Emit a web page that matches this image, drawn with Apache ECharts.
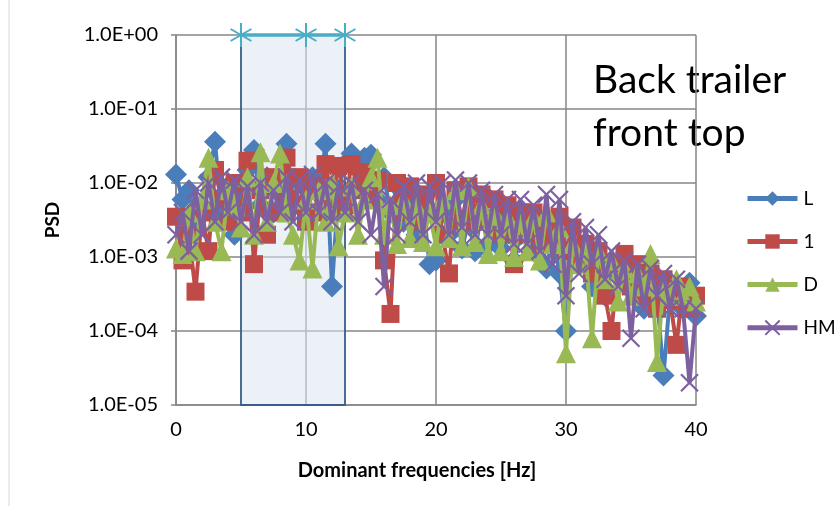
<!DOCTYPE html>
<html>
<head>
<meta charset="utf-8">
<script src="https://cdn.jsdelivr.net/npm/echarts@6/dist/echarts.min.js"></script>
<style>
html,body{margin:0;padding:0;background:#fff;}
#c{width:840px;height:506px;}
</style>
</head>
<body>
<div id="c"></div>
<script>
// Frequencies [Hz]
const freqs = [0,0.5,1,1.5,2,2.5,3,3.5,4,4.5,5,5.5,6,6.5,7,7.5,8,8.5,9,9.5,
10,10.5,11,11.5,12,12.5,13,13.5,14,14.5,15,15.5,16,16.5,17,17.5,18,18.5,19,19.5,
20,20.5,21,21.5,22,22.5,23,23.5,24,24.5,25,25.5,26,26.5,27,27.5,28,28.5,29,29.5,
30,30.5,31,31.5,32,32.5,33,33.5,34,34.5,35,35.5,36,36.5,37,37.5,38,38.5,39,39.5,40];

const psdL = [0.013,0.006,0.008,0.003,0.005,0.012,0.036,0.004,0.009,0.002,
0.006,0.015,0.028,0.005,0.012,0.004,0.008,0.034,0.006,0.010,
0.004,0.012,0.007,0.034,0.0004,0.008,0.018,0.025,0.010,0.022,
0.024,0.006,0.012,0.004,0.009,0.003,0.006,0.002,0.005,0.0008,
0.0009,0.004,0.002,0.006,0.0013,0.003,0.0012,0.004,0.0015,0.003,
0.0013,0.004,0.0009,0.002,0.003,0.0012,0.0025,0.0007,0.002,0.0006,
0.0001,0.0012,0.0008,0.0015,0.0004,0.0009,0.0003,0.0008,0.0006,0.0009,
0.0004,0.0007,0.0002,0.0006,0.0003,0.000025,0.0003,0.0004,0.0002,0.00045,0.00016];

const psd1 = [0.0035,0.0009,0.002,0.00034,0.004,0.0012,0.015,0.006,0.003,0.010,
0.004,0.020,0.0008,0.008,0.002,0.012,0.004,0.022,0.005,0.012,
0.003,0.009,0.004,0.018,0.006,0.017,0.005,0.018,0.008,0.014,
0.006,0.011,0.0009,0.00017,0.010,0.004,0.009,0.003,0.007,0.004,
0.010,0.002,0.0006,0.008,0.003,0.009,0.004,0.007,0.003,0.006,
0.002,0.005,0.0008,0.004,0.002,0.004,0.0015,0.003,0.002,0.0035,
0.0012,0.0025,0.0009,0.0015,0.0006,0.0012,0.0003,0.0001,0.0008,0.0011,
0.0004,0.0008,0.0003,0.0006,0.0002,0.0005,0.00026,0.000065,0.0004,0.0002,0.0003];

const psdD = [0.0013,0.0011,0.004,0.0012,0.006,0.022,0.003,0.0012,0.008,0.005,
0.0025,0.012,0.002,0.026,0.003,0.010,0.025,0.004,0.002,0.0009,
0.006,0.0007,0.008,0.003,0.010,0.0014,0.004,0.009,0.002,0.006,
0.012,0.022,0.002,0.005,0.0015,0.006,0.0018,0.005,0.0016,0.004,
0.0014,0.006,0.0018,0.008,0.0014,0.009,0.0016,0.005,0.0011,0.004,
0.0012,0.0035,0.0010,0.003,0.0012,0.0035,0.0009,0.004,0.0015,0.0025,
0.00005,0.0015,0.0008,0.0012,0.00008,0.0012,0.0005,0.0009,0.00025,0.0007,
0.0003,0.0006,0.0004,0.0011,0.000038,0.0004,0.0003,0.0005,0.0003,0.0004,0.00025];

const psdHM = [0.002,0.004,0.0012,0.008,0.002,0.010,0.003,0.012,0.004,0.011,
0.003,0.009,0.002,0.010,0.003,0.008,0.004,0.012,0.003,0.011,
0.004,0.013,0.004,0.010,0.003,0.009,0.004,0.010,0.003,0.008,
0.002,0.007,0.0004,0.006,0.002,0.009,0.003,0.010,0.002,0.009,
0.003,0.010,0.002,0.011,0.0025,0.010,0.002,0.008,0.002,0.007,
0.002,0.006,0.0015,0.006,0.0015,0.005,0.0012,0.007,0.0008,0.006,
0.0003,0.003,0.0006,0.0025,0.0008,0.002,0.0005,0.0012,0.0004,0.0009,
0.00008,0.0008,0.0002,0.0007,0.0003,0.0006,0.0002,0.0005,0.0002,0.00002,0.0002];

// Highlighted dominant-frequency band
const bandFreqs = [5, 10, 13];
const bandTop = 1;
const bandBottom = 1e-5;

const seriesNames = ['L', '1', 'D', 'HM'];
const xTicks = [0, 10, 20, 30, 40];
const yTickLabels = ['1.0E-05','1.0E-04','1.0E-03','1.0E-02','1.0E-01','1.0E+00'];
const titleText = 'Back trailer\nfront top';
const xTitle = 'Dominant frequencies [Hz]';
const yTitle = 'PSD';

const FONT = 'Lato, "Liberation Sans", sans-serif';
function pairs(xs, ys){ return xs.map((x,i)=>[x, ys[i]]); }
function fmtY(v){
  const e = Math.round(Math.log10(v));
  const idx = e + 5;
  return yTickLabels[idx] !== undefined ? yTickLabels[idx] : '';
}
const xMark = 'path://M-5,-5L5,5M-5,5L5,-5';
const starMark = 'path://M0,-10L0,10M-8.66,-5L8.66,5M-8.66,5L8.66,-5';

const chart = echarts.init(document.getElementById('c'), null, {renderer:'canvas'});
const lw = 4;
chart.setOption({
  animation: false,
  backgroundColor: '#fff',
  grid: {left: 176, right: 144, top: 35, bottom: 101, containLabel: false},
  xAxis: {
    type: 'value', min: xTicks[0], max: xTicks[xTicks.length-1], interval: 10,
    axisLine: {show: true, onZero: false, lineStyle: {color: '#868686', width: 1.5}},
    axisTick: {show: false},
    splitLine: {show: true, lineStyle: {color: '#868686', width: 1.5}},
    axisLabel: {color: '#000', fontFamily: FONT, fontSize: 20, margin: 15}
  },
  yAxis: {
    type: 'log', logBase: 10, min: bandBottom, max: bandTop,
    axisLine: {show: true, lineStyle: {color: '#868686', width: 1.5}},
    axisTick: {show: true, length: 5, lineStyle: {color: '#868686', width: 1.5}},
    minorTick: {show: false},
    splitLine: {show: true, lineStyle: {color: '#868686', width: 1.5}},
    axisLabel: {color: '#000', fontFamily: FONT, fontSize: 20, margin: 18, formatter: fmtY},
    name: yTitle, nameLocation: 'middle', nameGap: 114, nameRotate: 90,
    nameTextStyle: {color: '#000', fontFamily: FONT, fontSize: 19, fontWeight: 'bold'}
  },
  legend: {
    orient: 'vertical', left: 740, top: 184, itemWidth: 50, itemHeight: 18, itemGap: 24,
    data: seriesNames,
    lineStyle: {width: 5},
    textStyle: {color: '#000', fontFamily: FONT, fontSize: 19, padding: [0,0,0,1]}
  },
  graphic: [
    {type: 'text', left: 593, top: 54, style: {text: titleText, fontFamily: FONT, fontSize: 39, lineHeight: 53, fill: '#000'}},
    {type: 'text', x: 417, y: 471, style: {text: xTitle, fontFamily: FONT, fontSize: 20, fontWeight: 'bold', fill: '#000', align: 'center', verticalAlign: 'middle'}},
    {type: 'rect', shape: {x: 9, y: -5, width: 900, height: 600}, style: {fill: 'none', stroke: '#d9d9d9', lineWidth: 1}, silent: true}
  ],
  series: [
    {
      name: 'band', type: 'line', data: bandFreqs.map(f=>[f, bandTop]), z: 1,
      clip: false, symbol: starMark, symbolSize: 24, symbolKeepAspect: true,
      itemStyle: {color: 'none', borderColor: '#4bacc6', borderWidth: 2},
      lineStyle: {color: '#4bacc6', width: 3.5},
      markArea: {
        silent: true,
        itemStyle: {color: 'rgba(220,230,242,0.55)', borderColor: '#385d8a', borderWidth: 1.8},
        data: [[{xAxis: bandFreqs[0], yAxis: bandBottom}, {xAxis: bandFreqs[2], yAxis: bandTop}]]
      }
    },
    {name: 'L', type: 'line', data: pairs(freqs, psdL), z: 2, symbol: 'diamond', symbolSize: 22,
     itemStyle: {color: '#4a7ebb'}, lineStyle: {color: '#4a7ebb', width: lw}},
    {name: '1', type: 'line', data: pairs(freqs, psd1), z: 3, symbol: 'rect', symbolSize: 18,
     itemStyle: {color: '#be4b48'}, lineStyle: {color: '#be4b48', width: lw}},
    {name: 'D', type: 'line', data: pairs(freqs, psdD), z: 4, symbol: 'triangle', symbolSize: 20,
     itemStyle: {color: '#98b954'}, lineStyle: {color: '#98b954', width: lw}},
    {name: 'HM', type: 'line', data: pairs(freqs, psdHM), z: 5, symbol: xMark, symbolSize: 17,
     itemStyle: {color: 'none', borderColor: '#7d60a0', borderWidth: 2.2}, lineStyle: {color: '#7d60a0', width: lw}}
  ]
});
</script>
</body>
</html>
